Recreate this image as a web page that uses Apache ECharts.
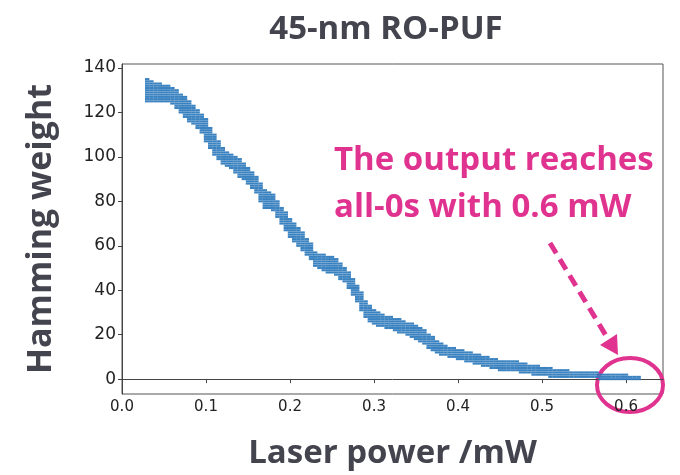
<!DOCTYPE html>
<html>
<head>
<meta charset="utf-8">
<script src="https://cdn.jsdelivr.net/npm/echarts@6/dist/echarts.min.js"></script>
<style>
html, body { margin: 0; padding: 0; background: #fff; }
#chart { width: 680px; height: 475px; }
</style>
</head>
<body>
<div id="chart"></div>
<script>
// laser power (mW) columns
var laserPower = [
    0.030, 0.035, 0.040, 0.045, 0.050, 0.055, 0.060, 0.065, 0.070, 0.075,
    0.080, 0.085, 0.090, 0.095, 0.100, 0.105, 0.110, 0.115, 0.120, 0.125,
    0.130, 0.135, 0.140, 0.145, 0.150, 0.155, 0.160, 0.165, 0.170, 0.175,
    0.180, 0.185, 0.190, 0.195, 0.200, 0.205, 0.210, 0.215, 0.220, 0.225,
    0.230, 0.235, 0.240, 0.245, 0.250, 0.255, 0.260, 0.265, 0.270, 0.275,
    0.280, 0.285, 0.290, 0.295, 0.300, 0.305, 0.310, 0.315, 0.320, 0.325,
    0.330, 0.335, 0.340, 0.345, 0.350, 0.355, 0.360, 0.365, 0.370, 0.375,
    0.380, 0.385, 0.390, 0.395, 0.400, 0.405, 0.410, 0.415, 0.420, 0.425,
    0.430, 0.435, 0.440, 0.445, 0.450, 0.455, 0.460, 0.465, 0.470, 0.475,
    0.480, 0.485, 0.490, 0.495, 0.500, 0.505, 0.510, 0.515, 0.520, 0.525,
    0.530, 0.535, 0.540, 0.545, 0.550, 0.555, 0.560, 0.565, 0.570, 0.575,
    0.580, 0.585, 0.590, 0.595, 0.600, 0.605, 0.610, 0.615
];
// lowest / highest hamming weight seen at each column
var hwLow = [
    125, 125, 125, 125, 125, 125, 124, 122, 120, 118,
    116, 115, 113, 111, 107, 104, 101, 99, 97, 96,
    95, 93, 91, 90, 88, 86, 84, 80, 77, 77,
    76, 73, 70, 67, 64, 62, 60, 58, 56, 54,
    51, 50, 49, 48, 48, 47, 45, 44, 41, 38,
    35, 31, 28, 26, 25, 24, 24, 23, 23, 22,
    21, 21, 20, 19, 18, 17, 16, 14, 13, 12,
    11, 11, 10, 10, 9, 9, 8, 8, 7, 7,
    6, 6, 5, 5, 4, 4, 4, 4, 4, 3,
    3, 3, 2, 2, 2, 2, 1, 1, 1, 1,
    1, 1, 1, 1, 1, 1, 1, 1, 0, 0,
    0, 0, 0, 0, 0, 0, 0, 0
];
var hwHigh = [
    135, 134, 133, 133, 132, 132, 131, 130, 128, 127,
    125, 123, 121, 119, 117, 113, 110, 107, 104, 102,
    101, 100, 99, 97, 95, 93, 91, 88, 85, 84,
    83, 80, 77, 75, 72, 70, 68, 66, 63, 61,
    57, 56, 56, 55, 55, 54, 52, 50, 48, 45,
    42, 39, 35, 33, 31, 30, 29, 28, 28, 27,
    27, 26, 25, 25, 24, 23, 22, 20, 19, 17,
    16, 15, 14, 14, 13, 13, 12, 12, 11, 11,
    10, 10, 9, 9, 8, 8, 8, 8, 8, 7,
    7, 6, 6, 6, 5, 5, 5, 4, 4, 4,
    4, 3, 3, 3, 3, 3, 3, 3, 2, 2,
    2, 2, 2, 2, 2, 1, 1, 1
];
var xTicks = [0, 0.1, 0.2, 0.3, 0.4, 0.5, 0.6];
var yTicks = [0, 20, 40, 60, 80, 100, 120, 140];

var pink = '#e0338f';
var slate = '#44444f';

// hamming weight is an integer, so fill each column at every integer step
function buildPoints() {
    var pts = [];
    for (var i = 0; i < laserPower.length; i++) {
        for (var h = hwLow[i]; h <= hwHigh[i]; h++) {
            pts.push([laserPower[i], h]);
        }
    }
    return pts;
}

var chart = echarts.init(document.getElementById('chart'));

var option = {
    animation: false,
    title: {
        text: '45-nm RO-PUF',
        left: 381,
        top: 8,
        textAlign: 'center',
        textStyle: { fontFamily: 'Open Sans', fontWeight: 'bold', fontSize: 33, color: slate }
    },
    grid: {
        left: 122, right: 17, top: 64, bottom: 81,
        show: true, borderColor: '#555', borderWidth: 1
    },
    xAxis: {
        type: 'value',
        min: 0, max: 0.644,
        name: 'Laser power /mW',
        nameLocation: 'middle',
        nameGap: 43,
        nameTextStyle: { fontFamily: 'Open Sans', fontWeight: 'bold', fontSize: 33, color: slate },
        axisLine: { show: true, lineStyle: { color: '#444', width: 1 } },
        axisTick: { show: true, length: 4, customValues: xTicks, lineStyle: { color: '#444' } },
        axisLabel: {
            customValues: xTicks,
            formatter: function(v) { return v.toFixed(1); },
            fontFamily: 'DejaVu Sans', fontSize: 15, color: '#222', margin: 6
        },
        splitLine: { show: false }
    },
    yAxis: {
        type: 'value',
        min: -6.7, max: 141.8,
        name: 'Hamming weight',
        nameLocation: 'middle',
        nameGap: 64,
        nameTextStyle: { fontFamily: 'Open Sans', fontWeight: 'bold', fontSize: 34, color: slate },
        axisLine: { show: true, lineStyle: { color: '#444', width: 1 } },
        axisTick: { show: true, length: 4, customValues: yTicks, lineStyle: { color: '#444' } },
        axisLabel: {
            customValues: yTicks,
            fontFamily: 'DejaVu Sans', fontSize: 17, color: '#222', margin: 6
        },
        splitLine: { show: false }
    },
    series: [{
        type: 'scatter',
        data: buildPoints(),
        symbol: 'rect',
        symbolSize: [4.4, 2.1],
        itemStyle: { color: '#2f7bbd', opacity: 0.95 },
        clip: true
    }],
    graphic: [
        {
            type: 'text', left: 334, top: 144,
            style: { text: 'The output reaches', fill: pink, font: 'bold 33px "Open Sans"' }
        },
        {
            type: 'text', left: 334, top: 191,
            style: { text: 'all-0s with 0.6 mW', fill: pink, font: 'bold 33px "Open Sans"' }
        },
        {
            type: 'line',
            shape: { x1: 550, y1: 243, x2: 608, y2: 339 },
            style: { stroke: pink, lineWidth: 5, lineDash: [12, 7] }
        },
        {
            type: 'polygon',
            shape: { points: [[618, 355], [600, 345], [617, 334]] },
            style: { fill: pink }
        },
        {
            type: 'ellipse',
            shape: { cx: 630, cy: 385, rx: 33, ry: 27 },
            style: { fill: 'none', stroke: pink, lineWidth: 4 }
        }
    ]
};

chart.setOption(option);
</script>
</body>
</html>
